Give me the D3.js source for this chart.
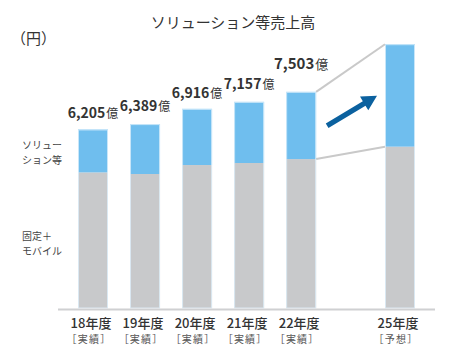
<!DOCTYPE html>
<html><head><meta charset="utf-8">
<script src="https://cdn.jsdelivr.net/npm/d3@7"></script>
<style>
html,body{margin:0;padding:0;background:#fff;}
svg{display:block;font-family:"Noto Sans CJK JP","Noto Sans",sans-serif;}
</style></head>
<body>
<svg id="chart" width="470" height="360"></svg>
<script>
const years = ["18年度","19年度","20年度","21年度","22年度","25年度"];
const kinds = ["［実績］","［実績］","［実績］","［実績］","［実績］","［予想］"];
const totals = [6205, 6389, 6916, 7157, 7503, 9150];
const fixedMobile = [4720, 4665, 4975, 5045, 5180, 5610];
const totalLabels = ["6,205","6,389","6,916","7,157","7,503",""];
const title = "ソリューション等売上高";
const unitLabel = "（円）";
const seriesLabels = [["ソリュー","ション等"],["固定＋","モバイル"]];

const svg = d3.select("#chart");
const blue = "#6fbeee", gray = "#c8c9cb", arrowCol = "#0b619f";

const slot = i => i + (i >= 5 ? 0.9 : 0);
const x = d3.scaleLinear().domain([0, 5.9]).range([93, 400]);
const y = d3.scaleLinear().domain([0, 10000]).range([309, 19.6]);
const bw = 30;

// connector lines between 22 and 25
const i4 = 4, i5 = 5;
svg.append("line").attr("x1", x(slot(i4)) + bw/2).attr("y1", y(totals[i4]))
  .attr("x2", x(slot(i5)) - bw/2).attr("y2", y(totals[i5]))
  .attr("stroke", "#c9c9c9").attr("stroke-width", 2);
svg.append("line").attr("x1", x(slot(i4)) + bw/2).attr("y1", y(fixedMobile[i4]))
  .attr("x2", x(slot(i5)) - bw/2).attr("y2", y(fixedMobile[i5]))
  .attr("stroke", "#c9c9c9").attr("stroke-width", 2);

// bars
const g = svg.append("g");
totals.forEach((t, i) => {
  const cx = x(slot(i));
  g.append("rect").attr("x", cx - bw/2).attr("width", bw)
    .attr("y", y(fixedMobile[i])).attr("height", y(0) - y(fixedMobile[i]) - 1)
    .attr("fill", gray);
  g.append("rect").attr("x", cx - bw/2).attr("width", bw)
    .attr("y", y(t)).attr("height", y(fixedMobile[i]) - y(t))
    .attr("fill", blue);
  g.append("rect").attr("x", cx - bw/2 + 0.5).attr("width", bw - 1)
    .attr("y", y(t) + 0.5).attr("height", y(0) - y(t) - 1.5)
    .attr("fill", "none").attr("stroke", "#dff0fb").attr("stroke-width", 1).attr("opacity", 0.8);
});

// axis line
svg.append("line").attr("x1", 58).attr("x2", 435).attr("y1", y(0) + 0.5).attr("y2", y(0) + 0.5)
  .attr("stroke", "#cfd0d2").attr("stroke-width", 2);

// value labels
totals.forEach((t, i) => {
  if (!totalLabels[i]) return;
  const lift = i === 4 ? 23 : (i % 2 ? 13 : 11);
  const tx = svg.append("text").attr("x", x(slot(i))).attr("y", y(t) - lift)
    .attr("text-anchor", "middle").attr("fill", "#333");
  tx.append("tspan").attr("font-size", i === 4 ? 15 : 14).attr("font-weight", 700).text(totalLabels[i]);
  tx.append("tspan").attr("font-size", i === 4 ? 13 : 12).attr("font-weight", 400).attr("dx", 1).text("億");
});

// x labels
years.forEach((yr, i) => {
  svg.append("text").attr("x", x(slot(i)) - 2).attr("y", 328).attr("text-anchor", "middle")
    .attr("font-size", 13).attr("font-weight", 500).attr("fill", "#333").text(yr);
  svg.append("text").attr("x", x(slot(i)) - 4).attr("y", 343).attr("text-anchor", "middle")
    .attr("font-size", 10).attr("letter-spacing", 1.2).attr("fill", "#555").text(kinds[i]);
});

// title & unit
svg.append("text").attr("x", 233).attr("y", 28).attr("text-anchor", "middle")
  .attr("font-size", 15).attr("fill", "#333").text(title);
svg.append("text").attr("x", 11).attr("y", 44).attr("font-size", 15).attr("fill", "#333").text(unitLabel);

// series labels
const sl = [[149, 164], [240, 255]];
seriesLabels.forEach((lines, k) => {
  lines.forEach((ln, j) => {
    svg.append("text").attr("x", 22).attr("y", sl[k][j]).attr("font-size", 10)
      .attr("fill", "#444").text(ln);
  });
});

// arrow
const ax0 = x(slot(4)) + bw/2 + 11, ay0 = y(6330);
const ax1 = x(slot(5)) - bw/2 - 8, ay1 = y(7370);
const dx = ax1 - ax0, dy = ay1 - ay0, L = Math.hypot(dx, dy);
const ux = dx / L, uy = dy / L, px = -uy, py = ux;
const hl = 15, hw = 8, sw = 2.6;
const bx = ax1 - ux * hl, by = ay1 - uy * hl;
const pts = [
  [ax0 + px*sw, ay0 + py*sw], [bx + px*sw, by + py*sw], [bx + px*hw, by + py*hw],
  [ax1, ay1], [bx - px*hw, by - py*hw], [bx - px*sw, by - py*sw], [ax0 - px*sw, ay0 - py*sw]
];
svg.append("polygon").attr("points", pts.map(p => p.join(",")).join(" ")).attr("fill", arrowCol);
</script>
</body></html>
